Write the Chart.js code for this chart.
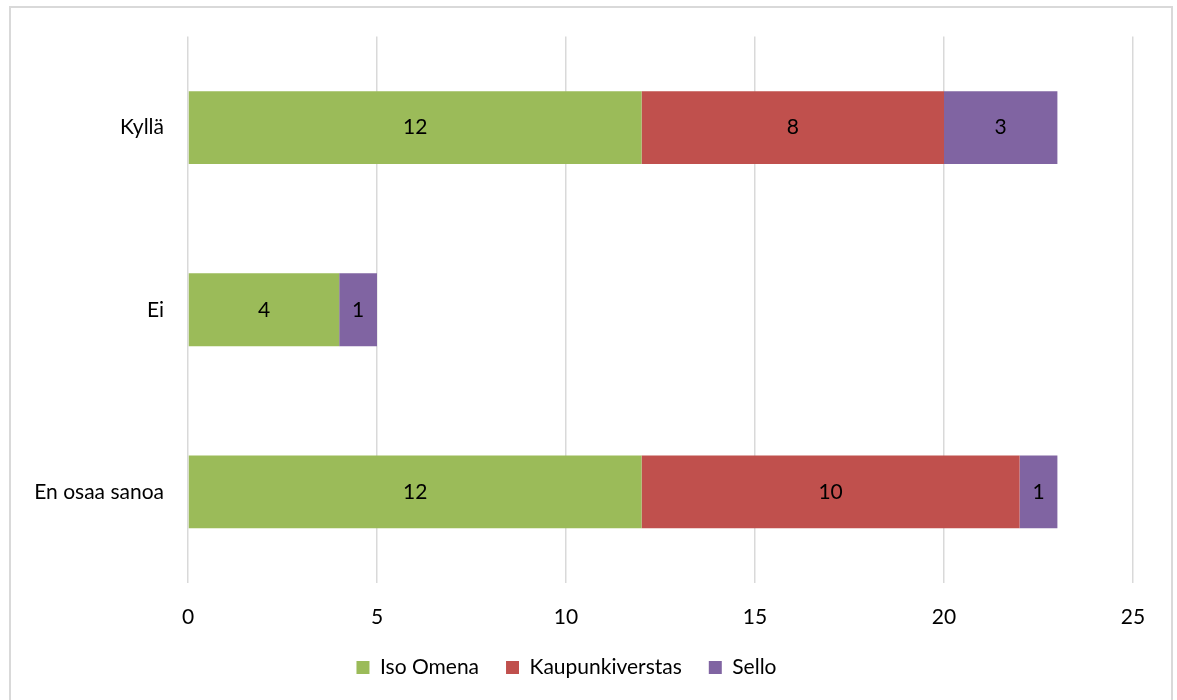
<!DOCTYPE html>
<html>
<head>
<meta charset="utf-8">
<script src="https://cdn.jsdelivr.net/npm/chart.js@4/dist/chart.umd.min.js"></script>
<style>
  html, body { margin: 0; padding: 0; background: #fff; }
  #wrap { position: relative; width: 1177px; height: 700px; }
</style>
</head>
<body>
<div id="wrap"><canvas id="chart" width="1177" height="700"></canvas></div>
<script>
// answers (top to bottom)
var categories = ["Kyllä", "Ei", "En osaa sanoa"];
// stores
var isoOmena = [12, 4, 12];
var kaupunkiverstas = [8, 0, 10];
var sello = [3, 1, 1];
var xTicks = [0, 5, 10, 15, 20, 25];

var FONT = "Lato, 'Noto Sans', sans-serif";

// draws the grey frame round the chart
var framePlugin = {
    id: "frame",
    beforeDraw: function(chart){
        var c = chart.ctx;
        c.save();
        c.fillStyle = "#fff";
        c.fillRect(0, 0, chart.width, chart.height);
        c.strokeStyle = "#d9d9d9";
        c.lineWidth = 2;
        c.strokeRect(10, 7, 1162, 720);
        c.restore();
    }
};

// value labels in the middle of each segment
var labelPlugin = {
    id: "segLabels",
    afterDatasetsDraw: function(chart){
        var c = chart.ctx;
        c.save();
        c.font = "21px " + FONT;
        c.fillStyle = "#000";
        c.textAlign = "center";
        c.textBaseline = "middle";
        chart.data.datasets.forEach(function(ds, i){
            var meta = chart.getDatasetMeta(i);
            meta.data.forEach(function(bar, j){
                var v = ds.data[j];
                if(!v) return;
                var mid = (bar.x + bar.base) / 2;
                c.fillText(String(v), mid, bar.y);
            });
        });
        c.restore();
    }
};

var ctx = document.getElementById("chart").getContext("2d");
var chart = new Chart(ctx, {
    type: "bar",
    data: {
        labels: categories,
        datasets: [
            { label: "Iso Omena", data: isoOmena, backgroundColor: "#9bbb59" },
            { label: "Kaupunkiverstas", data: kaupunkiverstas, backgroundColor: "#c0504d" },
            { label: "Sello", data: sello, backgroundColor: "#8064a2" }
        ]
    },
    options: {
        indexAxis: "y",
        responsive: false,
        animation: false,
        barPercentage: 0.4,
        categoryPercentage: 1.0,
        layout: { padding: { left: 0, top: 36, right: 44, bottom: 12 } },
        scales: {
            x: {
                stacked: true,
                min: 0,
                max: 25,
                afterBuildTicks: function(scale){
                    scale.ticks = xTicks.map(function(v){ return { value: v }; });
                },
                afterFit: function(scale){ scale.height = 47; },
                grid: { color: "#d9d9d9", lineWidth: 1.5, drawTicks: false },
                border: { display: false },
                ticks: { padding: 22, color: "#000", font: { family: FONT, size: 21 } }
            },
            y: {
                stacked: true,
                afterFit: function(scale){ scale.width = 188; },
                grid: { display: false, drawTicks: false },
                border: { display: false },
                ticks: { padding: 24, color: "#000", font: { family: FONT, size: 21 } }
            }
        },
        plugins: {
            legend: {
                position: "bottom",
                labels: {
                    color: "#000",
                    boxWidth: 13,
                    boxHeight: 13,
                    padding: 27,
                    font: { family: FONT, size: 21 }
                }
            },
            tooltip: { enabled: false }
        }
    },
    plugins: [framePlugin, labelPlugin]
});
</script>
</body>
</html>
